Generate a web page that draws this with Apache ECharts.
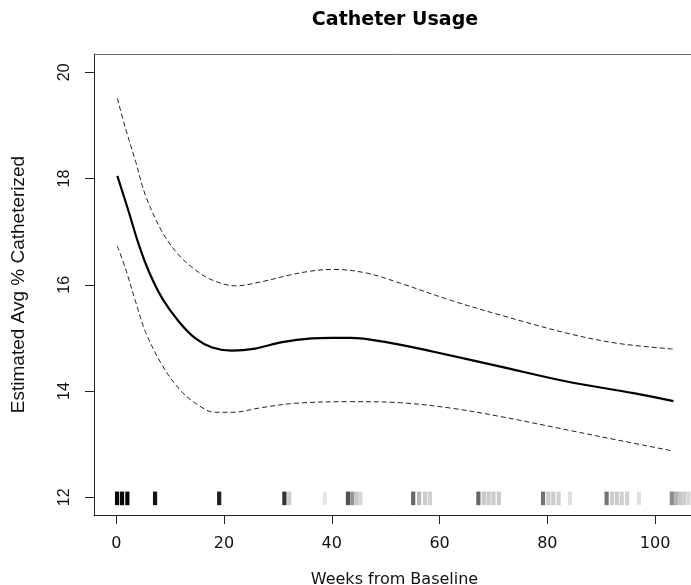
<!DOCTYPE html>
<html><head><meta charset="utf-8">
<script src="https://cdn.jsdelivr.net/npm/echarts@6/dist/echarts.min.js"></script>
<style>html,body{margin:0;padding:0;background:#fff}#c{width:691px;height:585px}</style>
</head><body><div id="c"></div>
<script>
const titleText = 'Catheter Usage';
const xAxisTitle = 'Weeks from Baseline';
const yAxisTitle = 'Estimated Avg % Catheterized';
const xTicks = [0, 20, 40, 60, 80, 100];
const yTicks = [12, 14, 16, 18, 20];

const fitWeeks  = [0.2, 2.3, 4.2, 6.05, 8.5, 11.6, 14.7, 17.8, 21.5, 25.8, 30.8, 36.3, 40, 43.4, 49.6, 58.9, 71.3, 83.6, 96, 103.4];
const fitValues = [18.05, 17.38, 16.75, 16.25, 15.75, 15.31, 14.99, 14.82, 14.76, 14.80, 14.92, 14.99, 15.00, 15.00, 14.93, 14.74, 14.46, 14.18, 13.96, 13.81];

const upperWeeks  = [0.2, 1.7, 3.6, 5.4, 8.5, 11.6, 14.7, 17.8, 22.1, 27.1, 32, 36.3, 40.3, 46.5, 52.7, 62, 71.3, 83.6, 92.9, 103.4];
const upperValues = [19.51, 18.95, 18.32, 17.69, 17.0, 16.56, 16.28, 16.09, 15.98, 16.06, 16.18, 16.26, 16.29, 16.22, 16.03, 15.71, 15.43, 15.09, 14.90, 14.79];

const lowerWeeks  = [0.2, 1.7, 3.6, 5.4, 8.5, 11.6, 14.7, 18.4, 21.5, 27.1, 33.2, 43.4, 52.7, 62, 71.3, 83.6, 92.9, 103.4];
const lowerValues = [16.73, 16.31, 15.68, 15.12, 14.49, 14.05, 13.77, 13.60, 13.60, 13.69, 13.77, 13.80, 13.78, 13.68, 13.52, 13.27, 13.08, 12.87];

const rugWeeks   = [0.15, 1.07, 2.06, 7.2, 19.1, 31.2, 32.1, 38.7, 43.0, 43.8, 44.6, 45.3, 55.1, 56.2, 57.3, 58.2, 67.2, 68.2, 69.1, 70.0, 71.0, 79.2, 80.2, 81.1, 82.1, 84.2, 91.0, 92.0, 92.9, 93.8, 94.8, 97.0, 103.1, 103.9, 104.6, 105.4, 106.2];
const rugDensity = [0.97, 0.97, 0.97, 0.93, 0.87, 0.8, 0.2, 0.1, 0.68, 0.42, 0.22, 0.16, 0.6, 0.28, 0.2, 0.18, 0.6, 0.22, 0.2, 0.2, 0.2, 0.55, 0.2, 0.2, 0.18, 0.12, 0.55, 0.2, 0.2, 0.18, 0.18, 0.12, 0.45, 0.3, 0.22, 0.2, 0.15];
const rugLevel = 11.98;

const zip = (xs, ys) => xs.map((x, i) => [x, ys[i]]);

const chart = echarts.init(document.getElementById('c'), null, {renderer: 'canvas'});
const xMin = -4.13, xMax = 107.4;
chart.setOption({
  animation: false,
  backgroundColor: '#fff',
  graphic: [{
    type: 'text', x: 395, y: 20,
    style: {text: titleText, font: 'bold 19px "DejaVu Sans"', fill: '#000', align: 'center', verticalAlign: 'middle'}
  }],
  grid: {left: 94, right: -4, top: 54, bottom: 70, show: false, containLabel: false, outerBoundsMode: 'none'},
  xAxis: [{
    type: 'value', min: xMin, max: xMax, position: 'bottom',
    name: xAxisTitle, nameLocation: 'middle', nameGap: 57,
    nameTextStyle: {fontFamily: 'DejaVu Sans', fontSize: 16, color: '#111', verticalAlign: 'top'},
    axisLine: {show: true, onZero: false, lineStyle: {color: '#222', width: 1}},
    axisTick: {show: true, length: 9, customValues: xTicks, lineStyle: {color: '#222'}},
    axisLabel: {show: true, margin: 21, customValues: xTicks, fontFamily: 'DejaVu Sans', fontSize: 16, color: '#111'},
    splitLine: {show: false}
  }, {
    type: 'value', min: xMin, max: xMax, position: 'top',
    axisLine: {show: true, onZero: false, lineStyle: {color: '#666', width: 1}},
    axisTick: {show: false}, axisLabel: {show: false}, splitLine: {show: false}
  }],
  yAxis: {
    type: 'value', min: 11.667, max: 20.344,
    name: yAxisTitle, nameLocation: 'middle', nameGap: 66, nameRotate: 90,
    nameTextStyle: {fontFamily: 'Liberation Sans', fontSize: 19, color: '#111'},
    axisLine: {show: true, onZero: false, lineStyle: {color: '#222', width: 1}},
    axisTick: {show: true, length: 9, customValues: yTicks, lineStyle: {color: '#222'}},
    axisLabel: {show: true, margin: 21, rotate: 90, customValues: yTicks, fontFamily: 'Liberation Sans', fontSize: 16, color: '#111'},
    splitLine: {show: false}
  },
  series: [
    {type: 'line', data: zip(fitWeeks, fitValues), smooth: 0.35, symbol: 'none', lineStyle: {color: '#000', width: 2.2}, z: 5},
    {type: 'line', data: zip(upperWeeks, upperValues), smooth: 0.35, symbol: 'none', lineStyle: {color: '#222', width: 1, type: [5, 3]}},
    {type: 'line', data: zip(lowerWeeks, lowerValues), smooth: 0.35, symbol: 'none', lineStyle: {color: '#222', width: 1, type: [5, 3]}},
    {
      type: 'custom',
      data: rugWeeks.map((w, i) => [w, rugLevel, rugDensity[i]]),
      renderItem: function (params, api) {
        const c = api.coord([api.value(0), api.value(1)]);
        const g = Math.round(255 * (1 - api.value(2)));
        return {type: 'rect', shape: {x: c[0] - 2.1, y: c[1] - 6.8, width: 4.2, height: 13.6},
                style: {fill: 'rgb(' + g + ',' + g + ',' + g + ')'}};
      },
      z: 1
    }
  ]
});
</script></body></html>
